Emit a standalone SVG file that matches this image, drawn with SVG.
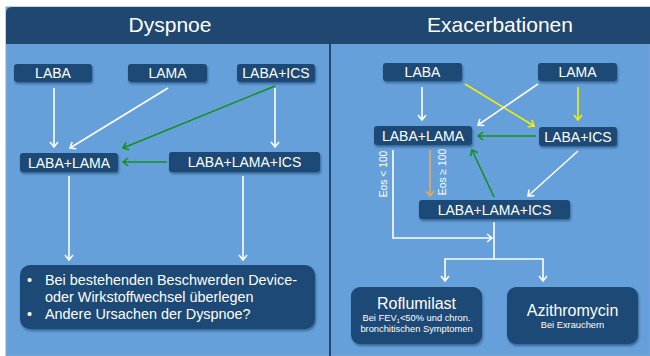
<svg xmlns="http://www.w3.org/2000/svg" width="650" height="356" viewBox="0 0 650 356">
<defs>
<style>
.hdr{fill:#1f4770}
.panel{fill:#65a0da}
.node{fill:#1e4874;filter:url(#sh)}
.lbl{font-family:"Liberation Sans",Arial,sans-serif;fill:#fff;font-size:14px;text-anchor:middle}
.title{font-family:"Liberation Sans",Arial,sans-serif;fill:#fff;font-size:21px;text-anchor:middle}
.txt{font-family:"Liberation Sans",Arial,sans-serif;fill:#fff;font-size:14.4px}
.sm{font-family:"Liberation Sans",Arial,sans-serif;fill:#fff;font-size:9.3px;text-anchor:middle}
.eos{font-family:"Liberation Sans",Arial,sans-serif;fill:#fff;font-size:10.3px;text-anchor:middle}
.c{fill:none;stroke-width:1.6}
.w{stroke:#fff;marker-end:url(#aw)}
.g{stroke:#14901c;marker-end:url(#ag)}
.y{stroke:#f4f000;marker-end:url(#ay)}
.o{stroke:#f2a45a;marker-end:url(#ao)}
</style>
<filter id="sh" x="-10%" y="-20%" width="120%" height="150%">
<feDropShadow dx="1" dy="2" stdDeviation="1.2" flood-color="#0a2040" flood-opacity="0.45"/>
</filter>
<marker id="aw" markerUnits="userSpaceOnUse" markerWidth="12" markerHeight="12" refX="6" refY="5" orient="auto"><path d="M1,1 L6,5 L1,9" fill="none" stroke="#fff" stroke-width="1.6"/></marker>
<marker id="ag" markerUnits="userSpaceOnUse" markerWidth="12" markerHeight="12" refX="6" refY="5" orient="auto"><path d="M1,1 L6,5 L1,9" fill="none" stroke="#14901c" stroke-width="1.6"/></marker>
<marker id="ay" markerUnits="userSpaceOnUse" markerWidth="12" markerHeight="12" refX="6" refY="5" orient="auto"><path d="M1,1 L6,5 L1,9" fill="none" stroke="#f4f000" stroke-width="1.6"/></marker>
<marker id="ao" markerUnits="userSpaceOnUse" markerWidth="12" markerHeight="12" refX="6" refY="5" orient="auto"><path d="M1,1 L6,5 L1,9" fill="none" stroke="#f2a45a" stroke-width="1.6"/></marker>
</defs>
<rect width="650" height="356" fill="#fff"/>
<g id="background">
<rect x="6" y="7" width="644" height="349" class="panel" stroke="#8aa6c2" stroke-width="1"/>
<path d="M6,13 Q6,7 12,7 H650 V44 H6 Z" class="hdr"/>
<rect x="329" y="44" width="2" height="312" fill="#1f4770"/>
<text x="170" y="32" class="title">Dyspnoe</text>
<text x="500" y="32" class="title">Exacerbationen</text>
</g>
<g id="connectors">
<path class="c w" d="M54,88 V147"/>
<path class="c w" d="M168,88 L70,148"/>
<path class="c g" d="M275,86 L123,148"/>
<path class="c w" d="M275,88 V147"/>
<path class="c g" d="M167,162 H123"/>
<path class="c w" d="M69,176 V260"/>
<path class="c w" d="M243,176 V260"/>
<path class="c w" d="M422,87 V120"/>
<path class="c y" d="M578,87 V120"/>
<path class="c y" d="M465,84 L534,126"/>
<path class="c w" d="M538,84 L478,125"/>
<path class="c g" d="M536,136 H478"/>
<path class="c g" d="M494,197 L472,150"/>
<path class="c w" d="M578,151 L528,196"/>
<path class="c o" d="M430,150 V196"/>
<path class="c w" d="M393,150 V238 H492"/>
<path class="c" stroke="#fff" d="M494,222 V259"/>
<path class="c w" d="M494,259 H445 V281"/>
<path class="c w" d="M494,259 H543 V281"/>
<text transform="translate(387,174) rotate(-90)" class="eos">Eos &lt; 100</text>
<text transform="translate(446,172) rotate(-90)" class="eos">Eos ≥ 100</text>
</g>
<g id="d-laba"><rect x="14" y="64" width="78" height="18" rx="3" class="node"/><text x="53" y="78" class="lbl">LABA</text></g>
<g id="d-lama"><rect x="128" y="64" width="79" height="18" rx="3" class="node"/><text x="167.5" y="78" class="lbl">LAMA</text></g>
<g id="d-labaics"><rect x="237" y="64" width="78" height="18" rx="3" class="node"/><text x="276" y="78" class="lbl">LABA+ICS</text></g>
<g id="d-labalama"><rect x="20" y="153" width="98" height="19" rx="3" class="node"/><text x="69" y="167.5" class="lbl">LABA+LAMA</text></g>
<g id="d-triple"><rect x="169" y="152" width="151" height="20" rx="3" class="node"/><text x="244.5" y="167" class="lbl">LABA+LAMA+ICS</text></g>
<g id="d-advice"><rect x="20" y="265" width="295" height="64" rx="10" class="node"/>
<text class="txt"><tspan x="27" y="285">•</tspan><tspan x="45" y="285">Bei bestehenden Beschwerden Device-</tspan><tspan x="45" y="302">oder Wirkstoffwechsel überlegen</tspan><tspan x="27" y="319">•</tspan><tspan x="45" y="319">Andere Ursachen der Dyspnoe?</tspan></text></g>
<g id="e-laba"><rect x="383" y="63" width="79" height="18" rx="3" class="node"/><text x="422.5" y="77" class="lbl">LABA</text></g>
<g id="e-lama"><rect x="538" y="63" width="79" height="18" rx="3" class="node"/><text x="577.5" y="77" class="lbl">LAMA</text></g>
<g id="e-labalama"><rect x="374" y="126" width="98" height="19" rx="3" class="node"/><text x="423" y="140.5" class="lbl">LABA+LAMA</text></g>
<g id="e-labaics"><rect x="539" y="127" width="78" height="19" rx="3" class="node"/><text x="578" y="141.5" class="lbl">LABA+ICS</text></g>
<g id="e-triple"><rect x="419" y="200" width="151" height="19" rx="3" class="node"/><text x="494.5" y="214.5" class="lbl">LABA+LAMA+ICS</text></g>
<g id="e-roflumilast"><rect x="351" y="287" width="131" height="57" rx="9" class="node"/>
<text x="416.5" y="309" class="lbl" style="font-size:16px">Roflumilast</text>
<text x="416.5" y="321" class="sm">Bei FEV<tspan font-size="6" dy="2">1</tspan><tspan dy="-2">&lt;50% und chron.</tspan></text>
<text x="416.5" y="332" class="sm">bronchitischen Symptomen</text></g>
<g id="e-azithromycin"><rect x="507" y="287" width="131" height="57" rx="9" class="node"/>
<text x="572.5" y="316" class="lbl" style="font-size:16px">Azithromycin</text>
<text x="572.5" y="328" class="sm">Bei Exrauchern</text></g>
</svg>
